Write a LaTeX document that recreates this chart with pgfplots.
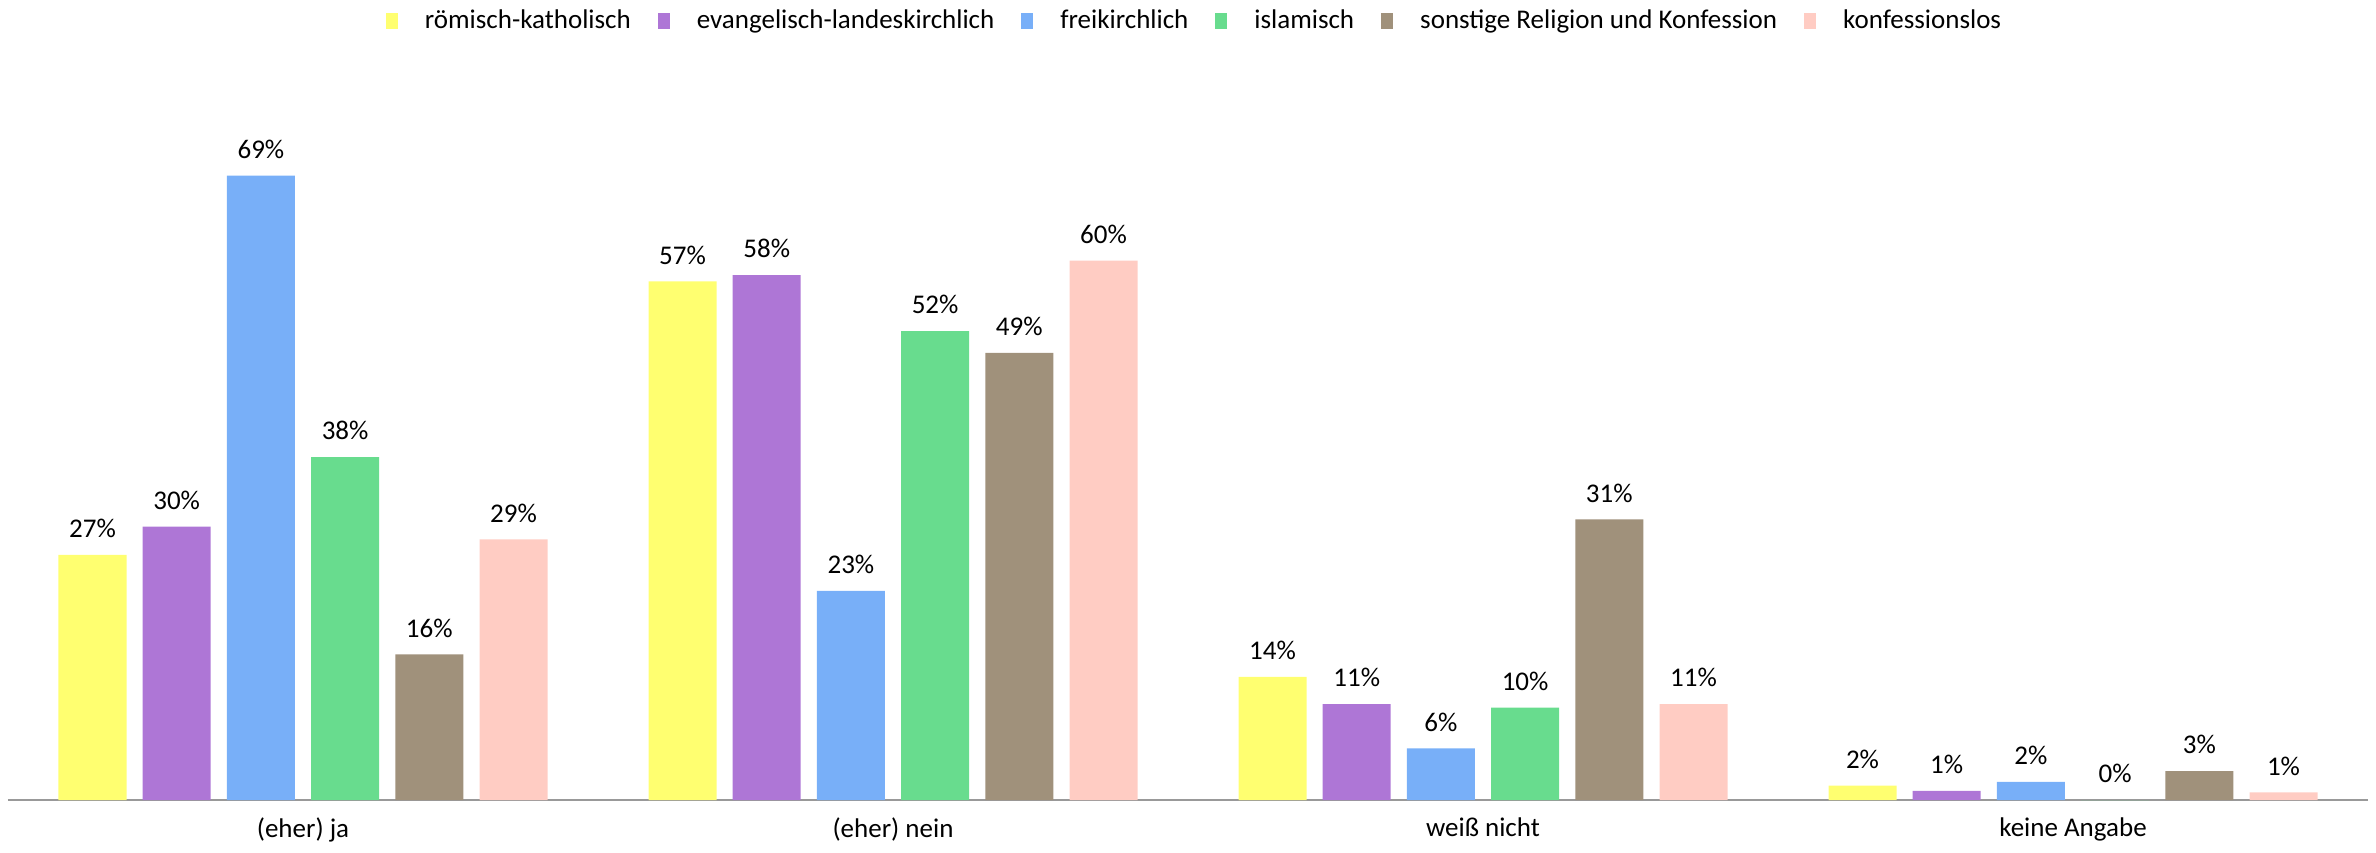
\documentclass[border=0pt]{standalone}
\usepackage{pgfplots}
\pgfplotsset{compat=1.18}
\usepackage{fontspec}
\setmainfont{Carlito}
\definecolor{cYel}{RGB}{255,255,112}
\definecolor{cPur}{RGB}{174,118,214}
\definecolor{cBlu}{RGB}{120,175,248}
\definecolor{cGre}{RGB}{104,220,142}
\definecolor{cBro}{RGB}{160,145,123}
\definecolor{cPin}{RGB}{255,204,195}
\begin{document}
\begin{tikzpicture}
\begin{axis}[
  scale only axis,
  width=1180pt, height=362pt,
  ybar=8.1pt, bar width=34pt,
  xmin=-0.5, xmax=3.5, ymin=0, ymax=80,
  xtick={0,1,2,3},
  xticklabels={(eher) ja,(eher) nein,weiß nicht,keine Angabe},
  major tick length=0pt,
  axis x line*=bottom,
  x axis line style={draw=gray!80, line width=1pt},
  hide y axis,
  /pgf/number format/assume math mode=true,
  font=\fontsize{13.5}{16}\selectfont,
  xticklabel style={font=\fontsize{13.5}{16}\selectfont, yshift=-5.5pt},
  nodes near coords={\pgfmathprintnumber[fixed,precision=0,assume math mode=true]{\pgfplotspointmeta}\%},
  every node near coord/.append style={font=\fontsize{13.5}{16}\selectfont, black, yshift=5pt},
  legend columns=6,
  legend style={at={(0.5,1)}, anchor=center, yshift=27.5pt, xshift=3.5pt, draw=none, fill=none,
    column sep=12pt, font=\fontsize{13.5}{16}\selectfont, nodes={inner sep=1.5pt}},
  legend image code/.code={\fill[#1] (0pt,-4pt) rectangle (6pt,4pt);},
  every axis plot/.append style={draw=none},
]
\addplot[fill=cYel] coordinates {(0,27.1) (1,57.3) (2,13.6) (3,1.6)};
\addplot[fill=cPur] coordinates {(0,30.2) (1,58.0) (2,10.6) (3,1.0)};
\addplot[fill=cBlu] coordinates {(0,69.0) (1,23.1) (2,5.7) (3,2.0)};
\addplot[fill=cGre] coordinates {(0,37.9) (1,51.8) (2,10.2) (3,0.0)};
\addplot[fill=cBro] coordinates {(0,16.1) (1,49.4) (2,31.0) (3,3.2)};
\addplot[fill=cPin] coordinates {(0,28.8) (1,59.6) (2,10.6) (3,0.85)};
\legend{römisch-katholisch,evangelisch-landeskirchlich,freikirchlich,islamisch,sonstige Religion und Konfession,konfessionslos}
\end{axis}
\pgfresetboundingbox
\path[use as bounding box] ([xshift=-4pt,yshift=-26pt]current axis.south west) rectangle ([xshift=4pt,yshift=38pt]current axis.north east);
\end{tikzpicture}
\end{document}
